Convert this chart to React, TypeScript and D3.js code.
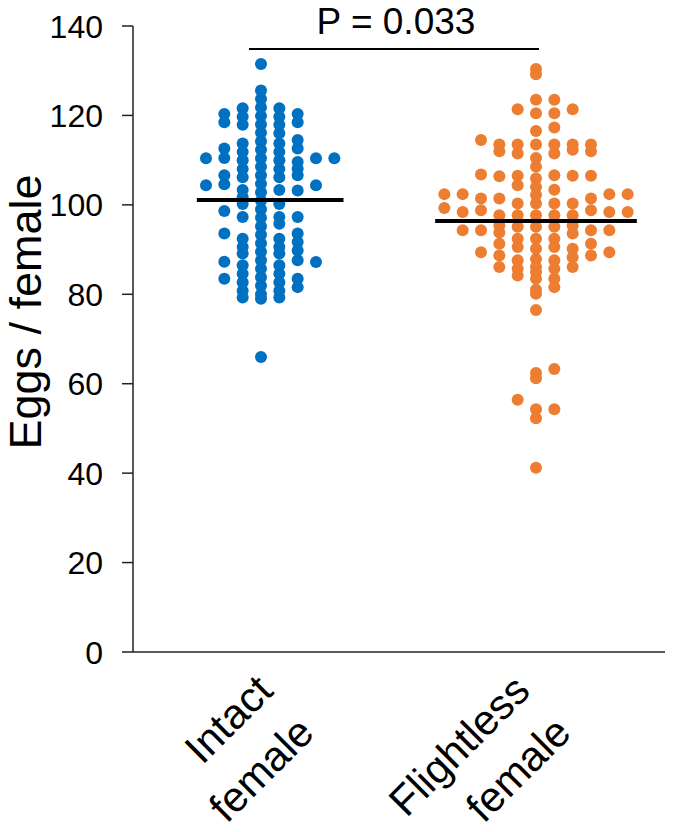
import React from "react";
import * as d3 from "d3";

// ---------- data ----------
const categories = ["Intact female", "Flightless female"];
const categoryLines = [["Intact", "female"], ["Flightless", "female"]];
const groupColors = ["#0070C0", "#ED7D31"];
const groupMeans = [101.1, 96.4];
const pLabel = "P = 0.033";
const yTicks = [0, 20, 40, 60, 80, 100, 120, 140];
const yTitle = "Eggs / female";

// column offsets (dot-plot columns) and values in each column
const intactOffsets = [-3, -2, -1, 0, 1, 2, 3, 4];
const intactValues = [
  [110.4, 104.4],
  [120.3, 118.5, 112.6, 110.5, 106.6, 104.6, 98.6, 93.6, 87.3, 83.5],
  [121.6, 119.7, 117.9, 113.7, 111.8, 110, 108, 106.2, 103.3, 101.7, 100.2, 97.3, 92.4, 90.6, 89.1, 86.5, 84.6, 82.7, 80.8, 79.3],
  [131.5, 125.6, 123.7, 121.8, 119.9, 118, 116.1, 114.2, 112.3, 110.4, 108.5, 106.6, 104.7, 102.8, 100.9, 99, 97.1, 95.2, 93.3, 91.4, 89.5, 87.6, 85.7, 83.8, 81.9, 80, 79, 66],
  [121.6, 119.7, 117.9, 116, 113.7, 111.8, 110, 108, 106.2, 103.3, 100.2, 97.3, 95.8, 92.4, 90.6, 89.1, 86.5, 84.6, 82.7, 80.8, 79.3],
  [120.3, 118.5, 114.5, 112.6, 109.6, 108.1, 106.6, 103.2, 97.3, 93.6, 91.7, 89.8, 87.6, 83.5, 81.6],
  [110.4, 104.4, 87.2],
  [110.4],
];

const flightlessOffsets = [-5, -4, -3, -2, -1, 0, 1, 2, 3, 4, 5];
const flightlessValues = [
  [102.4, 99.3],
  [102.4, 98.4, 94.3],
  [114.5, 106.8, 101.4, 98.8, 94.3, 89.4],
  [113.5, 112, 106.4, 101.4, 97.7, 95.4, 93.8, 91.3, 88.7, 86.1],
  [121.4, 113.5, 111.5, 106.5, 104.4, 100.3, 97.7, 95.1, 92.4, 90.6, 87.6, 85.7, 84.2, 56.4],
  [130.4, 129.2, 123.5, 120.5, 116.5, 113.5, 110.5, 108.5, 105.9, 104, 102.2, 100.3, 97.7, 95.1, 92.4, 90.2, 87.9, 86.1, 85, 83.5, 81, 80.1, 76.5, 62.4, 61.2, 54.3, 52.3, 41.2],
  [123.5, 120.5, 117.3, 113.5, 111.5, 106.6, 103.4, 100.3, 97.7, 95.1, 92.4, 90.6, 87.6, 85.7, 83.5, 81.6, 63.3, 54.3],
  [121.4, 113.5, 112.3, 106.5, 100.3, 97.7, 95.4, 93.6, 90.2, 88.3, 86.1],
  [113.5, 112, 106.5, 101.4, 98.8, 94.3, 91.3, 88.7],
  [102.4, 98.4, 94.3, 89.4],
  [102.4, 98.4],
];

const groupOffsets = [intactOffsets, flightlessOffsets];
const groupValues = [intactValues, flightlessValues];

// ---------- layout ----------
const W = 685;
const H = 832;
const axisX = 133;
const axisRight = 665;
const colStep = 1 / 15;
const labelShift = [9, -9];
const FONT = "'Liberation Sans', Arial, Helvetica, sans-serif";

export default function App() {
  const y = d3.scaleLinear().domain([0, 140]).range([652, 26]);
  const x = d3.scaleLinear().domain([1, 2]).range([261, 536]);

  const dots: { cx: number; cy: number; color: string; key: string }[] = [];
  groupValues.forEach((cols, g) => {
    cols.forEach((vals, c) => {
      const off = groupOffsets[g][c];
      vals.forEach((v, i) => {
        dots.push({
          cx: x(g + 1 + off * colStep),
          cy: y(v),
          color: groupColors[g],
          key: `${g}-${c}-${i}`,
        });
      });
    });
  });

  const meanLines = groupMeans.map((m, g) => {
    const offs = groupOffsets[g];
    return {
      x1: x(g + 1 + (d3.min(offs)! - 0.5) * colStep),
      x2: x(g + 1 + (d3.max(offs)! + 0.5) * colStep),
      y: y(m),
    };
  });

  const bracketX1 = x(1) - 12;
  const bracketX2 = x(2) + 3;
  const bracketY = 49;

  return (
    <svg
      width={W}
      height={H}
      style={{ position: "absolute", left: 0, top: 0, background: "#fff" }}
      fontFamily={FONT}
    >
      <rect width={W} height={H} fill="#fff" />
      {/* y axis */}
      <line x1={axisX} x2={axisX} y1={y(140)} y2={y(0)} stroke="#222" strokeWidth={1.5} />
      {yTicks.map((t) => (
        <g key={t}>
          <line x1={axisX - 11} x2={axisX} y1={y(t)} y2={y(t)} stroke="#222" strokeWidth={1.5} />
          <text x={103} y={y(t)} dy="0.36em" textAnchor="end" fontSize={32} fill="#000">
            {t}
          </text>
        </g>
      ))}
      {/* x axis */}
      <line x1={axisX} x2={axisRight} y1={y(0)} y2={y(0)} stroke="#222" strokeWidth={1.5} />

      {/* dots */}
      {dots.map((d) => (
        <circle key={d.key} cx={d.cx} cy={d.cy} r={6} fill={d.color} />
      ))}

      {/* mean lines */}
      {meanLines.map((l, i) => (
        <line key={i} x1={l.x1} x2={l.x2} y1={l.y} y2={l.y} stroke="#000" strokeWidth={4} />
      ))}

      {/* significance */}
      <line x1={bracketX1} x2={bracketX2} y1={bracketY} y2={bracketY} stroke="#000" strokeWidth={2} />
      <text x={(bracketX1 + bracketX2) / 2 + 2} y={34} textAnchor="middle" fontSize={37} fill="#000">
        {pLabel}
      </text>

      {/* y title */}
      <text transform="translate(41,312) rotate(-90)" textAnchor="middle" fontSize={45} fill="#000">
        {yTitle}
      </text>

      {/* x labels */}
      {categories.map((c, i) => {
        const bx = x(i + 1) + 5 + labelShift[i];
        const by = 693;
        return (
          <g key={c}>
            {categoryLines[i].map((ln, j) => (
              <text
                key={j}
                transform={`translate(${bx + j * 41},${by + j * 42}) rotate(-45)`}
                textAnchor="end"
                fontSize={42}
                fill="#000"
              >
                {ln}
              </text>
            ))}
          </g>
        );
      })}
    </svg>
  );
}
